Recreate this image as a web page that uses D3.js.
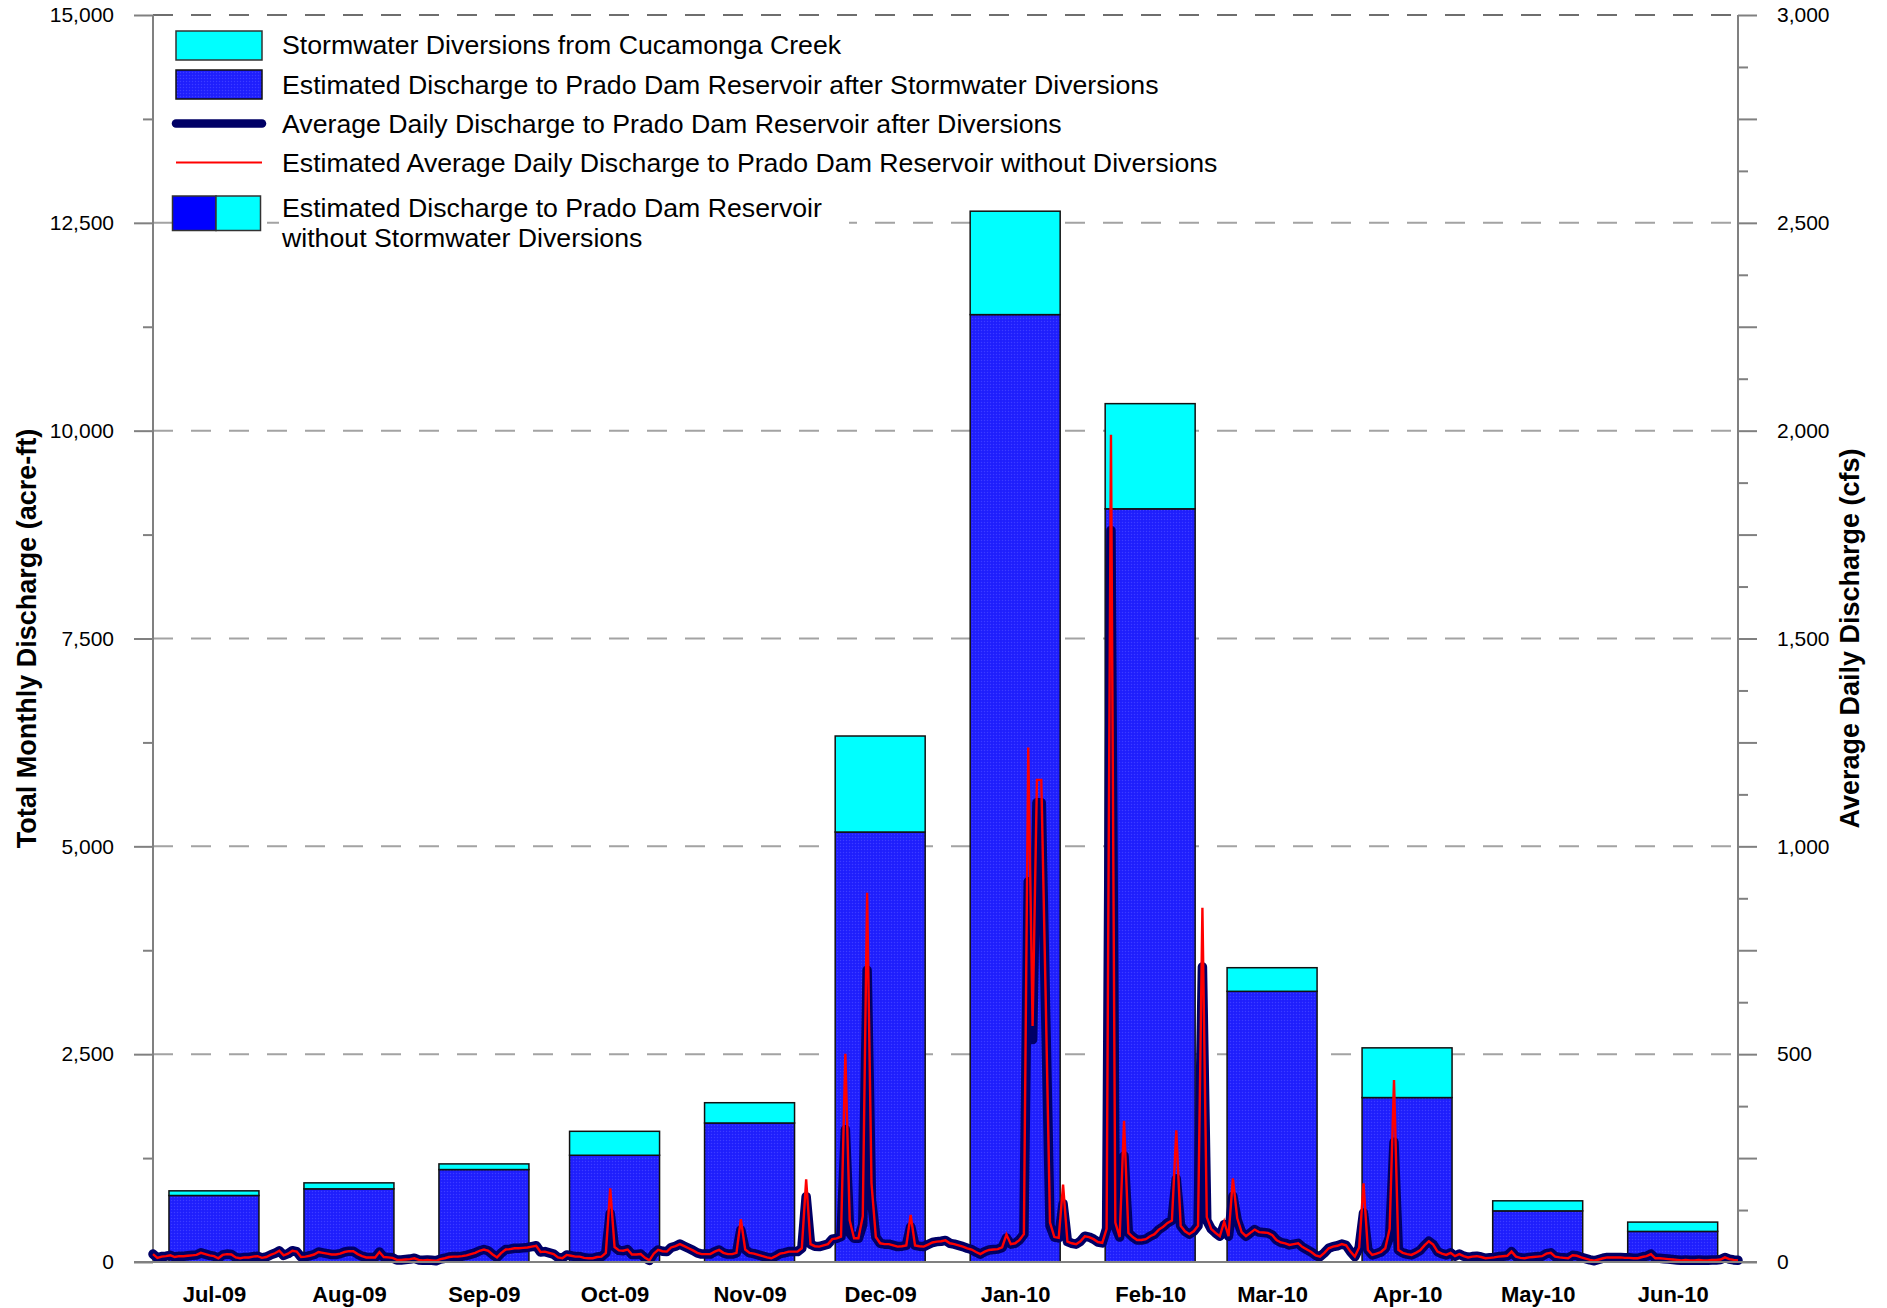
<!DOCTYPE html>
<html>
<head>
<meta charset="utf-8">
<script src="https://cdn.jsdelivr.net/npm/d3@7/dist/d3.min.js"></script>
<style>
  body { margin: 0; background: #fff; }
  svg { display: block; }
  text { font-family: "Liberation Sans", Arial, Helvetica, sans-serif; fill: #000; }
</style>
</head>
<body>
<svg id="chart" width="1887" height="1308"></svg>
<script>
// ---------------- DATA ----------------
const months = ["Jul-09","Aug-09","Sep-09","Oct-09","Nov-09","Dec-09","Jan-10","Feb-10","Mar-10","Apr-10","May-10","Jun-10"];
// Estimated discharge to Prado Dam Reservoir after stormwater diversions (acre-ft)
const afterMonthly = [800, 880, 1112, 1284, 1672, 5172, 11396, 9060, 3256, 1978, 615, 368];
// Stormwater diversions from Cucamonga Creek (acre-ft)
const diversionMonthly = [56, 72, 68, 288, 244, 1155, 1244, 1265, 284, 598, 121, 112];

const leftTickLabels = [0, 2500, 5000, 7500, 10000, 12500, 15000];
const rightTickLabels = [0, 500, 1000, 1500, 2000, 2500, 3000];

const legendLabels = [
  "Stormwater Diversions from Cucamonga Creek",
  "Estimated Discharge to Prado Dam Reservoir after Stormwater Diversions",
  "Average Daily Discharge to Prado Dam Reservoir after Diversions",
  "Estimated Average Daily Discharge to Prado Dam Reservoir without Diversions",
  ["Estimated Discharge to Prado Dam Reservoir", "without Stormwater Diversions"]
];
const leftTitle = "Total Monthly Discharge (acre-ft)";
const rightTitle = "Average Daily Discharge (cfs)";

const firstDay = "2009-07-01";

// Average daily discharge after diversions (cfs), Jul 1 2009 .. Jun 30 2010
const dailyAfter = [
  // Jul
  19,10,13,14,16,12,14,14,15,16,17,22,19,16,14,9,17,19,18,11,9,11,11,13,14,10,12,17,21,27,16,
  // Aug
  20,27,25,12,13,15,18,24,22,20,18,18,20,24,26,26,19,14,11,11,11,24,12,11,10,5,5,6,7,9,5,
  // Sep
  4,5,4,3,7,9,12,13,13,14,16,19,22,27,30,27,18,11,22,30,31,33,33,34,35,37,39,24,25,22,
  // Oct
  19,11,9,17,15,13,13,10,9,9,12,13,22,117,36,28,27,30,18,18,19,10,4,20,29,26,25,35,38,43,38,
  // Nov
  33,28,22,19,19,19,25,29,22,19,19,22,77,30,22,20,17,14,11,9,14,20,22,25,25,25,33,157,43,38,
  // Dec
  37,40,43,55,57,61,318,70,57,57,90,702,150,60,45,43,43,40,37,38,40,85,40,38,37,42,47,49,50,52,45,
  // Jan
  43,40,37,33,30,24,19,25,29,30,31,35,58,43,45,53,67,915,535,1105,1105,600,87,60,58,140,49,45,43,50,62,
  // Feb
  60,55,48,46,80,1760,85,60,255,70,60,53,53,55,62,67,78,85,94,100,200,87,74,67,74,87,710,100,
  // Mar
  80,70,62,90,62,158,100,72,62,70,78,72,71,70,65,53,47,45,41,43,45,36,30,24,16,13,22,33,37,39,43,
  // Apr
  40,25,13,35,118,29,17,20,24,33,60,288,29,22,19,17,22,28,40,50,42,25,20,17,22,14,19,14,11,13,
  // May
  14,12,9,10,11,13,14,15,25,13,10,9,11,12,13,14,20,22,13,11,10,9,16,15,11,8,5,3,6,9,11,
  // Jun
  11,11,11,10,10,9,9,12,14,19,9,9,8,7,6,5,4,5,4,4,5,4,4,5,5,6,11,7,5,4
];

// Estimated average daily discharge without diversions (cfs)
const dailyWithout = [
  // Jul
  19,10,13,14,16,12,14,14,15,16,17,22,19,16,14,9,17,19,18,11,9,11,11,13,14,10,12,17,21,27,16,
  // Aug
  20,27,25,12,13,15,18,24,22,20,18,18,20,24,26,26,19,14,11,11,11,24,12,11,10,5,5,6,7,9,5,
  // Sep
  4,5,4,3,7,9,12,13,13,14,16,19,22,27,30,27,18,11,22,30,31,33,33,34,35,37,39,24,25,22,
  // Oct
  19,11,9,17,15,13,13,10,9,9,12,13,22,177,36,28,27,30,18,18,19,10,4,20,29,26,25,35,38,43,38,
  // Nov
  33,28,22,19,19,19,25,29,22,19,19,22,103,30,22,20,17,14,11,9,14,20,22,25,25,25,33,199,43,38,
  // Dec
  37,40,43,55,57,61,501,100,57,57,110,888,190,60,45,43,43,40,37,38,40,113,40,38,37,42,47,49,50,52,45,
  // Jan
  43,40,37,33,30,24,19,25,29,30,31,35,66,43,45,53,67,1238,568,1160,1160,640,95,60,58,186,49,45,43,50,62,
  // Feb
  60,55,48,46,80,1990,95,60,340,70,60,53,53,55,62,67,78,85,94,100,317,87,74,67,74,87,852,108,
  // Mar
  80,70,62,97,62,201,105,72,62,70,78,72,71,70,65,53,47,45,41,43,45,36,30,24,16,13,22,33,37,39,43,
  // Apr
  40,25,13,35,189,29,17,20,24,33,80,438,29,22,19,17,22,28,40,50,42,25,20,17,22,14,19,14,11,13,
  // May
  14,12,9,10,11,13,14,15,25,13,10,9,11,12,13,14,20,22,13,11,10,9,16,15,11,8,5,3,6,9,11,
  // Jun
  11,11,11,10,10,9,9,12,14,19,9,9,8,7,6,5,4,5,4,4,5,4,4,5,5,6,11,7,5,4
];

// ---------------- LAYOUT ----------------
const plot = { left: 153, right: 1738, top: 15, bottom: 1262 };
const svg = d3.select("#chart");

const parse = d3.utcParse("%Y-%m-%d");
const start = parse(firstDay);
const dayDates = dailyAfter.map((_, i) => d3.utcDay.offset(start, i));
const end = dayDates[dayDates.length - 1];

const x = d3.scaleUtc().domain([start, end]).range([plot.left, plot.right]);
const yL = d3.scaleLinear().domain([0, 15000]).range([plot.bottom, plot.top]);
const yR = d3.scaleLinear().domain([0, 3000]).range([plot.bottom, plot.top]);

const monthMid = months.map((_, i) => d3.utcDay.offset(d3.utcMonth.offset(start, i), 14));
const barHalfHours = 248; // ~10.3 days on each side of mid-month

// pattern for dotted blue fill
const defs = svg.append("defs");
const pat = defs.append("pattern").attr("id", "bluedots")
  .attr("width", 3).attr("height", 3).attr("patternUnits", "userSpaceOnUse");
pat.append("rect").attr("width", 3).attr("height", 3).attr("fill", "#2222ff");
pat.append("rect").attr("x", 0).attr("y", 0).attr("width", 1).attr("height", 1).attr("fill", "#3d3dff");
pat.append("rect").attr("x", 1.5).attr("y", 1.5).attr("width", 1).attr("height", 1).attr("fill", "#1515f0");

// ---------------- GRIDLINES ----------------
const gridG = svg.append("g");
gridG.selectAll("line").data(leftTickLabels.filter(v => v > 0)).join("line")
  .attr("x1", plot.left).attr("x2", plot.right)
  .attr("y1", d => yL(d)).attr("y2", d => yL(d))
  .attr("stroke", d => d === 15000 ? "#6e6e6e" : "#a3a3a3")
  .attr("stroke-width", 2)
  .attr("stroke-dasharray", "20,18");

// ---------------- BARS ----------------
const barG = svg.append("g");
const bx0 = i => x(d3.utcHour.offset(monthMid[i], -barHalfHours));
const bx1 = i => x(d3.utcHour.offset(monthMid[i], barHalfHours));

barG.selectAll("rect.after").data(afterMonthly).join("rect")
  .attr("class", "after")
  .attr("x", (d, i) => bx0(i)).attr("width", (d, i) => bx1(i) - bx0(i))
  .attr("y", d => yL(d)).attr("height", d => yL(0) - yL(d))
  .attr("fill", "url(#bluedots)").attr("stroke", "#111").attr("stroke-width", 1.5);

barG.selectAll("rect.div").data(diversionMonthly).join("rect")
  .attr("class", "div")
  .attr("x", (d, i) => bx0(i)).attr("width", (d, i) => bx1(i) - bx0(i))
  .attr("y", (d, i) => yL(afterMonthly[i] + d))
  .attr("height", (d, i) => yL(afterMonthly[i]) - yL(afterMonthly[i] + d))
  .attr("fill", "#00ffff").attr("stroke", "#111").attr("stroke-width", 1.5);

// ---------------- AXES ----------------
const axisColor = "#808080";
function styleAxis(g) {
  g.select(".domain").remove();
  g.selectAll(".tick line").attr("stroke", axisColor).attr("stroke-width", 2);
  g.selectAll(".tick text").style("font-size", "21px").attr("fill", "#000");
}
const fmt = d3.format(",");

// Left axis: minor every 1250, major every 2500
svg.append("g").attr("transform", `translate(${plot.left},0)`)
  .call(d3.axisLeft(yL).tickValues(d3.range(1250, 15000, 2500)).tickSize(10).tickFormat(""))
  .call(styleAxis);
svg.append("g").attr("transform", `translate(${plot.left},0)`)
  .call(d3.axisLeft(yL).tickValues(leftTickLabels).tickSize(19).tickPadding(20).tickFormat(fmt))
  .call(styleAxis);

// Right axis: minor every 125, mid every 250, labels every 500
svg.append("g").attr("transform", `translate(${plot.right},0)`)
  .call(d3.axisRight(yR).tickValues(d3.range(125, 3000, 250)).tickSize(10).tickFormat(""))
  .call(styleAxis);
svg.append("g").attr("transform", `translate(${plot.right},0)`)
  .call(d3.axisRight(yR).tickValues(d3.range(250, 3000, 500)).tickSize(19).tickFormat(""))
  .call(styleAxis);
svg.append("g").attr("transform", `translate(${plot.right},0)`)
  .call(d3.axisRight(yR).tickValues(rightTickLabels).tickSize(19).tickPadding(20).tickFormat(fmt))
  .call(styleAxis);

// axis lines
svg.append("line").attr("x1", plot.left).attr("x2", plot.left).attr("y1", plot.top).attr("y2", plot.bottom)
  .attr("stroke", axisColor).attr("stroke-width", 2);
svg.append("line").attr("x1", plot.right).attr("x2", plot.right).attr("y1", plot.top).attr("y2", plot.bottom)
  .attr("stroke", axisColor).attr("stroke-width", 2);

// Bottom axis (month labels)
const xAxisG = svg.append("g").attr("transform", `translate(0,${plot.bottom})`)
  .call(d3.axisBottom(x).tickValues(monthMid).tickSize(0).tickPadding(24).tickFormat((d, i) => months[i]));
xAxisG.select(".domain").remove();
xAxisG.selectAll(".tick text").style("font-size", "22px").style("font-weight", "bold").attr("fill", "#000");

// ---------------- DAILY LINES ----------------
const lineDaily = d3.line().x((d, i) => x(dayDates[i])).y(d => yR(d));
svg.append("path").datum(dailyAfter)
  .attr("d", lineDaily).attr("fill", "none")
  .attr("stroke", "#000066").attr("stroke-width", 9.5)
  .attr("stroke-linejoin", "round").attr("stroke-linecap", "round");
svg.append("path").datum(dailyWithout)
  .attr("d", lineDaily).attr("fill", "none")
  .attr("stroke", "#ff0000").attr("stroke-width", 2.4)
  .attr("stroke-linejoin", "miter");

// zero line on top
svg.append("line").attr("x1", plot.left - 19).attr("x2", plot.right + 19)
  .attr("y1", yL(0)).attr("y2", yL(0)).attr("stroke", axisColor).attr("stroke-width", 2);

// ---------------- AXIS TITLES ----------------
svg.append("text").attr("transform", `translate(27,${(plot.top + plot.bottom) / 2}) rotate(-90)`)
  .attr("text-anchor", "middle").attr("dominant-baseline", "central")
  .style("font-size", "27px").style("font-weight", "bold").text(leftTitle);
svg.append("text").attr("transform", `translate(1850,${(plot.top + plot.bottom) / 2}) rotate(-90)`)
  .attr("text-anchor", "middle").attr("dominant-baseline", "central")
  .style("font-size", "27px").style("font-weight", "bold").text(rightTitle);

// ---------------- LEGEND ----------------
const lg = svg.append("g");
const textX = 282, fs = "26.7px";
// background behind the two-line item
lg.append("rect").attr("x", 279).attr("y", 190).attr("width", 570).attr("height", 64).attr("fill", "#fff");

lg.append("rect").attr("x", 176).attr("y", 31).attr("width", 86).attr("height", 29)
  .attr("fill", "#00ffff").attr("stroke", "#333").attr("stroke-width", 1.5);
lg.append("text").attr("x", textX).attr("y", 54).style("font-size", fs).text(legendLabels[0]);

lg.append("rect").attr("x", 176).attr("y", 70).attr("width", 86).attr("height", 29)
  .attr("fill", "url(#bluedots)").attr("stroke", "#111").attr("stroke-width", 1.5);
lg.append("text").attr("x", textX).attr("y", 93.5).style("font-size", fs).text(legendLabels[1]);

lg.append("line").attr("x1", 176).attr("x2", 262).attr("y1", 123.5).attr("y2", 123.5)
  .attr("stroke", "#000066").attr("stroke-width", 8.5).attr("stroke-linecap", "round");
lg.append("text").attr("x", textX).attr("y", 133).style("font-size", fs).text(legendLabels[2]);

lg.append("line").attr("x1", 176).attr("x2", 262).attr("y1", 162.5).attr("y2", 162.5)
  .attr("stroke", "#ff0000").attr("stroke-width", 2.2);
lg.append("text").attr("x", textX).attr("y", 172).style("font-size", fs).text(legendLabels[3]);

lg.append("rect").attr("x", 172.5).attr("y", 196).attr("width", 43.5).attr("height", 34.5)
  .attr("fill", "#0000ff").attr("stroke", "#333").attr("stroke-width", 1.5);
lg.append("rect").attr("x", 216).attr("y", 196).attr("width", 44.5).attr("height", 34.5)
  .attr("fill", "#00ffff").attr("stroke", "#333").attr("stroke-width", 1.5);
lg.append("text").attr("x", textX).attr("y", 216.5).style("font-size", fs).text(legendLabels[4][0]);
lg.append("text").attr("x", textX).attr("y", 246.5).style("font-size", fs).text(legendLabels[4][1]);
</script>
</body>
</html>
